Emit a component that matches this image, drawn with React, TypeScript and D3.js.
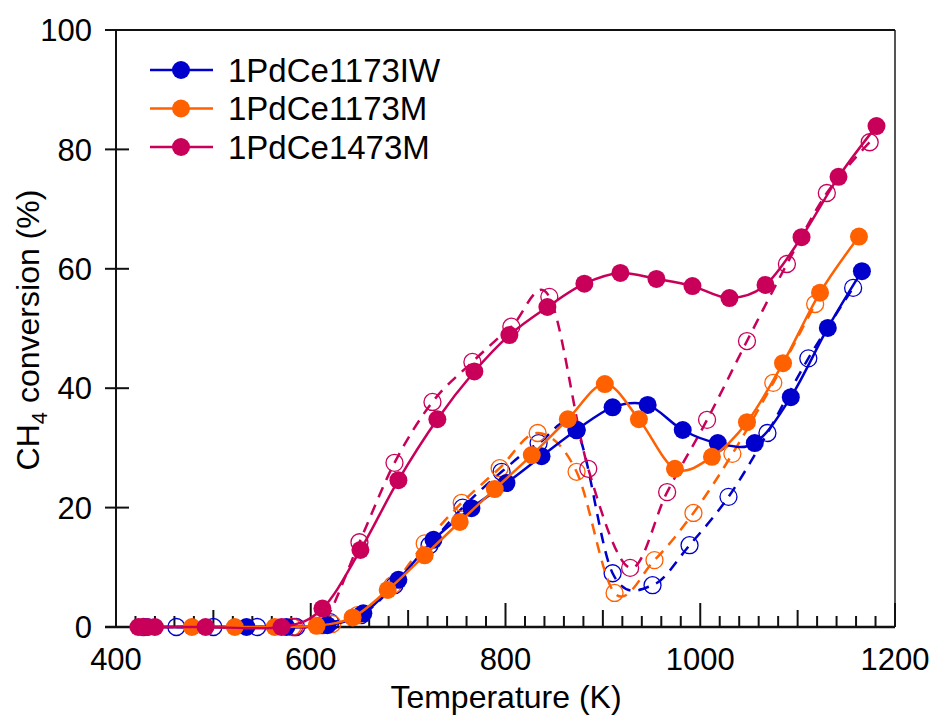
import * as d3 from "d3";

// heating runs (filled markers, solid lines)
const iwHeatT = [432, 534, 575, 617, 654, 690, 726, 765, 801, 837, 873, 910, 946, 982, 1018, 1056, 1093, 1131, 1166];
const iwHeatV = [0, 0, 0, 0.3, 2.3, 7.9, 14.6, 19.9, 24.1, 28.6, 33, 36.8, 37.2, 33, 30.8, 30.8, 38.5, 50.1, 59.6];
const m1173HeatT = [478, 522, 563, 606, 643, 679, 717, 753, 789, 827, 864, 902, 937, 974, 1012, 1048, 1085, 1123, 1163];
const m1173HeatV = [0, 0, 0, 0.2, 1.6, 6.2, 12, 17.6, 23.1, 28.8, 34.8, 40.7, 34.8, 26.5, 28.5, 34.3, 44.2, 56, 65.4];
const m1473HeatT = [423, 432, 440, 492, 570, 612, 651, 690, 730, 768, 804, 843, 881, 918, 955, 992, 1030, 1067, 1104, 1142, 1181];
const m1473HeatV = [0, 0, 0, 0, 0, 3.1, 12.9, 24.6, 34.8, 42.8, 48.9, 53.6, 57.5, 59.3, 58.3, 57.1, 55.1, 57.3, 65.3, 75.4, 83.9];

// cooling runs (open markers, dashed lines)
const iwCoolT = [462, 500, 545, 585, 620, 652, 686, 722, 756, 796, 834, 873, 910, 951, 989, 1029, 1069, 1111, 1157];
const iwCoolV = [0, 0, 0, 0, 0.8, 2, 7, 13.7, 20, 26, 30.8, 33, 9, 7, 13.7, 21.8, 32.5, 45, 56.8];
const m1173CoolT = [581, 622, 648, 684, 717, 755, 794, 833, 873, 912, 953, 993, 1033, 1075, 1118];
const m1173CoolV = [0, 0.5, 2, 7, 14, 20.8, 26.6, 32.5, 26, 5.7, 11.2, 19.1, 29, 40.9, 54.1];
const m1473CoolT = [428, 583, 612, 650, 686, 725, 766, 806, 845, 885, 928, 966, 1007, 1048, 1089, 1130, 1174];
const m1473CoolV = [0, 0, 0.3, 14.2, 27.5, 37.7, 44.4, 50.3, 55.3, 26.5, 9.9, 22.6, 34.7, 47.9, 60.8, 72.7, 81.2];

const names = ["1PdCe1173IW", "1PdCe1173M", "1PdCe1473M"];
const colors = ["#0000cc", "#ff6000", "#c8005a"];

const xTicks = [400, 600, 800, 1000, 1200];
const yTicks = [0, 20, 40, 60, 80, 100];

const font = "'Liberation Sans', Arial, sans-serif";

export default function App() {
  const x = d3.scaleLinear().domain([400, 1200]).range([116, 895]);
  const y = d3.scaleLinear().domain([0, 100]).range([627, 30]);

  const heat = [
    [iwHeatT, iwHeatV],
    [m1173HeatT, m1173HeatV],
    [m1473HeatT, m1473HeatV],
  ];
  const cool = [
    [iwCoolT, iwCoolV],
    [m1173CoolT, m1173CoolV],
    [m1473CoolT, m1473CoolV],
  ];

  const line = d3
    .line<[number, number]>()
    .x((d) => x(d[0]))
    .y((d) => y(d[1]))
    .curve(d3.curveCardinal.tension(0));

  const pts = (s: number[][]) => s[0].map((t, i) => [t, s[1][i]] as [number, number]);

  // tick marks along the x axis every 20 K
  const minor = d3.range(400, 1201, 20);

  return (
    <svg width={935} height={715} style={{ position: "absolute", left: 0, top: 0, background: "#fff" }} fontFamily={font}>
      {/* frame */}
      <line x1={895} x2={895} y1={30} y2={627} stroke="#555" strokeWidth={2} />
      <line x1={105} x2={895} y1={30} y2={30} stroke="#111" strokeWidth={2} />
      <line x1={116} x2={116} y1={30} y2={627} stroke="#111" strokeWidth={2} />
      <line x1={105} x2={895} y1={627} y2={627} stroke="#111" strokeWidth={2.5} />

      {minor.map((t) => {
        const len = t % 200 === 0 ? 24 : t % 100 === 0 ? 17 : 11;
        return <line key={t} x1={x(t)} x2={x(t)} y1={627} y2={627 - len} stroke="#111" strokeWidth={2} />;
      })}
      {yTicks.map((v) => (
        <g key={v}>
          <line x1={105} x2={129} y1={y(v)} y2={y(v)} stroke="#111" strokeWidth={2} />
          <text x={92} y={y(v)} dy="0.36em" textAnchor="end" fontSize={31}>
            {v}
          </text>
        </g>
      ))}
      {xTicks.map((t) => (
        <text key={t} x={x(t)} y={670} textAnchor="middle" fontSize={31}>
          {t}
        </text>
      ))}
      <text x={506} y={708} textAnchor="middle" fontSize={32}>
        Temperature (K)
      </text>
      <text transform="translate(39,330) rotate(-90)" textAnchor="middle" fontSize={32}>
        CH<tspan fontSize={22} dy={8}>4</tspan>
        <tspan dy={-8}> conversion (%)</tspan>
      </text>

      {/* cooling: dashed + open circles */}
      {cool.map((s, i) => (
        <g key={"c" + i}>
          <path d={line(pts(s)) || ""} fill="none" stroke={colors[i]} strokeWidth={2.5} strokeDasharray="11,8" />
          {pts(s).map((d, j) => (
            <circle key={j} cx={x(d[0])} cy={y(d[1])} r={8.5} fill="none" stroke={colors[i]} strokeWidth={1.3} />
          ))}
        </g>
      ))}

      {/* heating: solid + filled circles */}
      {heat.map((s, i) => (
        <g key={"h" + i}>
          <path d={line(pts(s)) || ""} fill="none" stroke={colors[i]} strokeWidth={2.5} />
          {pts(s).map((d, j) => (
            <circle key={j} cx={x(d[0])} cy={y(d[1])} r={9} fill={colors[i]} />
          ))}
        </g>
      ))}

      {/* legend */}
      {names.map((n, i) => {
        const ly = 70 + i * 38.5;
        return (
          <g key={n}>
            <line x1={150} x2={213} y1={ly} y2={ly} stroke={colors[i]} strokeWidth={2.5} />
            <circle cx={181} cy={ly} r={9} fill={colors[i]} />
            <text x={228} y={ly} dy="0.36em" fontSize={33}>
              {n}
            </text>
          </g>
        );
      })}
    </svg>
  );
}
